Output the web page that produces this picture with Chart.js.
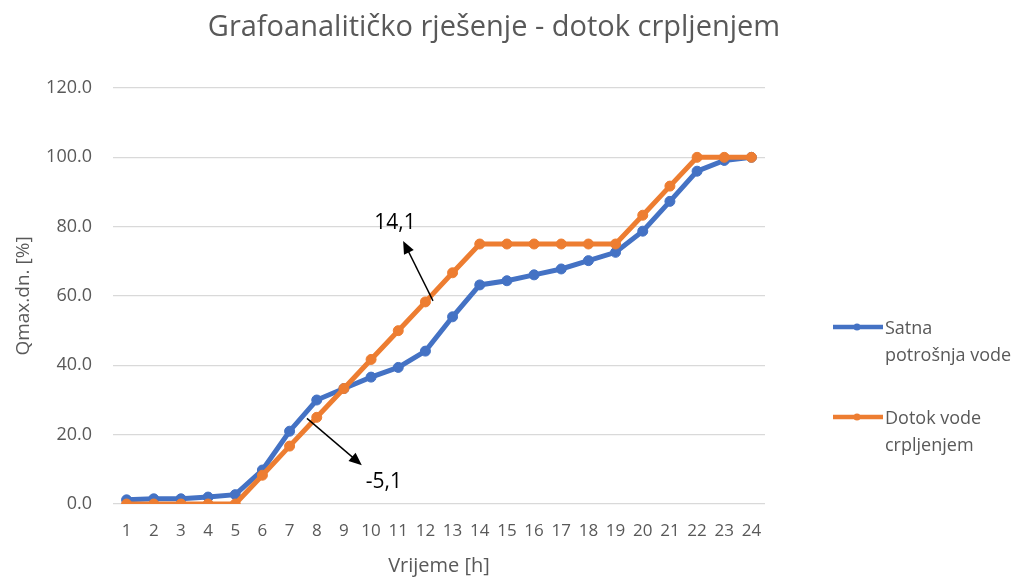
<!DOCTYPE html>
<html>
<head>
<meta charset="utf-8">
<title>Grafoanaliticko rjesenje</title>
<script src="https://cdn.jsdelivr.net/npm/chart.js@4.4.1/dist/chart.umd.min.js"></script>
<style>
    body { margin: 0; background: #fff; }
    #wrap { width: 1019px; height: 578px; }
</style>
</head>
<body>
<div id="wrap"><canvas id="grafChart" width="1019" height="578"></canvas></div>
<script>
// ---------------- podaci ----------------
const sati = ['1','2','3','4','5','6','7','8','9','10','11','12','13','14','15','16','17','18','19','20','21','22','23','24'];
const potrosnja = [1.2, 1.5, 1.5, 2.0, 2.7, 9.8, 21.0, 30.0, 33.3, 36.6, 39.4, 44.1, 54.0, 63.2, 64.4, 66.1, 67.8, 70.2, 72.6, 78.7, 87.3, 96.0, 99.1, 100.0];
const dotok = [0, 0, 0, 0, 0, 8.3, 16.7, 25.0, 33.3, 41.7, 50.0, 58.3, 66.7, 75.0, 75.0, 75.0, 75.0, 75.0, 75.0, 83.3, 91.7, 100.0, 100.0, 100.0];
const yTicks = [0, 20, 40, 60, 80, 100, 120];

const naslov = 'Grafoanalitičko rješenje - dotok crpljenjem';
const nazivPotrosnja = ['Satna', 'potrošnja vode'];
const nazivDotok = ['Dotok vode', 'crpljenjem'];

// strelice s oznakama (x = indeks sata, y = %)
const oznake = [
    { text: '14,1', tx: 9.88, ty: 81.0, x1: 11.28, y1: 58.6, x2: 10.18, y2: 75.9 },
    { text: '-5,1', tx: 9.47, ty: 6.3, x1: 6.64, y1: 24.7, x2: 8.66, y2: 11.2 }
];

const PLAVA = '#4472C4';
const NARANCASTA = '#ED7D31';
const SIVA = '#595959';
const FONT = "'Open Sans', sans-serif";

// ---------------- naslov, strelice, legenda ----------------
const crtezPlugin = {
    id: 'crtez',
    afterDatasetsDraw(chart) {
        const ctx = chart.ctx;
        const xs = chart.scales.x, ys = chart.scales.y;
        ctx.save();
        oznake.forEach(o => {
            const x1 = xs.getPixelForValue(o.x1), y1 = ys.getPixelForValue(o.y1);
            const x2 = xs.getPixelForValue(o.x2), y2 = ys.getPixelForValue(o.y2);
            const ang = Math.atan2(y2 - y1, x2 - x1);
            const head = 14;
            ctx.strokeStyle = '#000';
            ctx.fillStyle = '#000';
            ctx.lineWidth = 1.4;
            ctx.beginPath();
            ctx.moveTo(x1, y1);
            ctx.lineTo(x2 - Math.cos(ang) * head * 0.8, y2 - Math.sin(ang) * head * 0.8);
            ctx.stroke();
            ctx.beginPath();
            ctx.moveTo(x2, y2);
            ctx.lineTo(x2 - head * Math.cos(ang - 0.4), y2 - head * Math.sin(ang - 0.4));
            ctx.lineTo(x2 - head * Math.cos(ang + 0.4), y2 - head * Math.sin(ang + 0.4));
            ctx.closePath();
            ctx.fill();
            ctx.font = '21px ' + FONT;
            ctx.textAlign = 'center';
            ctx.textBaseline = 'middle';
            ctx.fillText(o.text, xs.getPixelForValue(o.tx), ys.getPixelForValue(o.ty));
        });
        ctx.restore();
    },
    afterDraw(chart) {
        const ctx = chart.ctx;
        ctx.save();
        // naslov
        ctx.fillStyle = SIVA;
        ctx.font = '29px ' + FONT;
        ctx.textAlign = 'center';
        ctx.textBaseline = 'middle';
        ctx.fillText(naslov, 494, 28);
        // legenda desno
        const left = chart.chartArea.right + 68;
        const stavke = [
            { boja: PLAVA, tekst: nazivPotrosnja, y: 327 },
            { boja: NARANCASTA, tekst: nazivDotok, y: 417 }
        ];
        stavke.forEach(s => {
            ctx.strokeStyle = s.boja;
            ctx.fillStyle = s.boja;
            ctx.lineWidth = 4.5;
            ctx.beginPath();
            ctx.moveTo(left, s.y);
            ctx.lineTo(left + 50, s.y);
            ctx.stroke();
            ctx.beginPath();
            ctx.arc(left + 24, s.y, 3.5, 0, Math.PI * 2);
            ctx.fill();
            ctx.fillStyle = SIVA;
            ctx.font = '18px ' + FONT;
            ctx.textAlign = 'left';
            ctx.textBaseline = 'middle';
            s.tekst.forEach((t, i) => ctx.fillText(t, left + 52, s.y + 2 + i * 27));
        });
        ctx.restore();
    }
};

new Chart(document.getElementById('grafChart'), {
    type: 'line',
    data: {
        labels: sati,
        datasets: [{
            label: nazivPotrosnja.join(' '),
            data: potrosnja,
            borderColor: PLAVA,
            backgroundColor: PLAVA,
            borderWidth: 5,
            pointRadius: 5,
            pointBorderWidth: 1,
            tension: 0,
            order: 1
        }, {
            label: nazivDotok.join(' '),
            data: dotok,
            borderColor: NARANCASTA,
            backgroundColor: NARANCASTA,
            borderWidth: 5,
            pointRadius: 5,
            pointBorderWidth: 1,
            tension: 0,
            order: 0
        }]
    },
    options: {
        responsive: false,
        animation: false,
        layout: { padding: { left: 8, right: 254, top: 88, bottom: 0 } },
        plugins: {
            legend: { display: false },
            tooltip: { enabled: false },
            title: { display: false }
        },
        scales: {
            x: {
                offset: true,
                afterFit(axis) { axis.height = 74; },
                grid: { display: false, drawTicks: false },
                border: { display: false },
                ticks: {
                    color: SIVA,
                    font: { family: FONT, size: 17 },
                    autoSkip: false,
                    maxRotation: 0,
                    padding: 17
                },
                title: {
                    display: true,
                    text: 'Vrijeme [h]',
                    color: SIVA,
                    font: { family: FONT, size: 20 },
                    padding: { top: 0, bottom: 0 }
                }
            },
            y: {
                min: 0,
                max: 120,
                afterFit(axis) { axis.width = 105; },
                afterBuildTicks(axis) { axis.ticks = yTicks.map(v => ({ value: v })); },
                grid: { color: '#d9d9d9', lineWidth: 1.3, drawTicks: false },
                border: { display: false },
                ticks: {
                    color: SIVA,
                    font: { family: FONT, size: 18 },
                    padding: 21,
                    callback: v => Number(v).toFixed(1)
                },
                title: {
                    display: true,
                    text: 'Qmax.dn. [%]',
                    color: SIVA,
                    font: { family: FONT, size: 19 },
                    padding: { top: 4, bottom: 4 }
                }
            }
        }
    },
    plugins: [crtezPlugin]
});
</script>
</body>
</html>
